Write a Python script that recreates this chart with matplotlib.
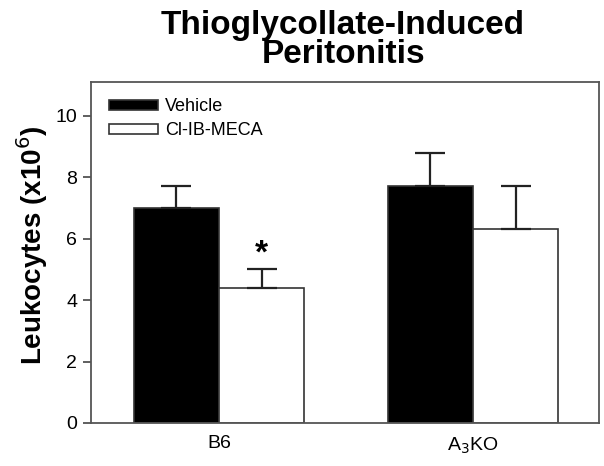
import numpy as np
import matplotlib
matplotlib.use("Agg")
import matplotlib.pyplot as plt
from matplotlib.patches import Patch

plt.rcParams['font.family'] = ['Liberation Sans', 'DejaVu Sans']

# データ
groups = ['B6', 'A$_3$KO']
vehicle = [7.0, 7.7]
vehicle_err = [0.7, 1.1]
meca = [4.4, 6.3]
meca_err = [0.6, 1.4]

fig = plt.figure(figsize=(6.04, 4.66), dpi=100)
ax = fig.add_axes([0.1507, 0.0923, 0.8410, 0.7317])

x = np.arange(len(groups))
w = 0.335
ekw = dict(lw=1.6, capsize=10.5, capthick=1.6, ecolor='#222222')

ax.bar(x - w / 2, vehicle, w, color='black', edgecolor='#333333', lw=1.2)
ax.errorbar(x - w / 2, vehicle, yerr=[np.zeros(2), vehicle_err], fmt='none', **ekw)
ax.bar(x + w / 2, meca, w, color='white', edgecolor='#333333', lw=1.2)
ax.errorbar(x + w / 2, meca, yerr=[np.zeros(2), meca_err], fmt='none', **ekw)

# 有意差
ax.text(x[0] + w / 2, meca[0] + meca_err[0] + 0.5, '*', ha='center', va='center',
        fontsize=24, fontweight='bold')

ax.set_xlim(-0.504, 1.496)
ax.set_ylim(0, 11.1)
ax.set_yticks([0, 2, 4, 6, 8, 10])
ax.set_xticks(x)
ax.set_xticklabels(groups)
ax.tick_params(axis='x', length=0, pad=9, labelsize=14)
ax.tick_params(axis='y', length=6, width=1.2, direction='out', labelsize=14, pad=4, color='#444444')
for s in ax.spines.values():
    s.set_linewidth(1.3)
    s.set_color('#555555')

ax.set_ylabel('Leukocytes (x10$^6$)', fontsize=20, fontweight='bold', labelpad=4, y=0.52)
fig.suptitle('Thioglycollate-Induced\nPeritonitis', fontsize=24, fontweight='bold',
             x=0.568, y=0.978, linespacing=0.92)

handles = [Patch(facecolor='black', edgecolor='#333333', lw=1.2),
           Patch(facecolor='white', edgecolor='#333333', lw=1.2)]
ax.legend(handles, ['Vehicle', 'Cl-IB-MECA'], loc='upper left', frameon=False,
          fontsize=13, handlelength=2.7, handleheight=0.45, handletextpad=0.4,
          labelspacing=0.38, borderaxespad=0.5, bbox_to_anchor=(0.004, 1.0))

fig.savefig('out.png', dpi=100)
